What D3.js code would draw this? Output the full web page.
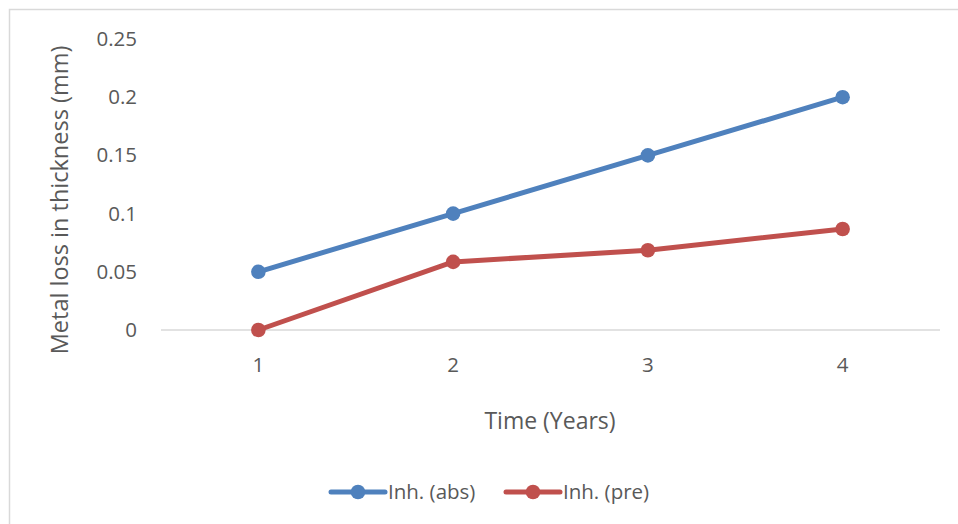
<!DOCTYPE html>
<html><head><meta charset="utf-8">
<script src="https://cdn.jsdelivr.net/npm/d3@7"></script>
<style>body{margin:0;background:#fff}svg{display:block}</style>
</head><body>
<svg id="c" width="958" height="524"></svg>
<script>
const categories = ["1","2","3","4"];
const seriesNames = ["Inh. (abs)","Inh. (pre)"];
const absValues = [0.05,0.10,0.15,0.20];
const preValues = [0.0,0.0585,0.0685,0.0868];
const yTicks = [0,0.05,0.1,0.15,0.2,0.25];
const colors = ["#4f81bd","#c0504d"];

const svg = d3.select("#c");
const font = "'Open Sans', sans-serif";
svg.append("rect").attr("x",9.5).attr("y",9.5).attr("width",960).attr("height",530)
  .attr("fill","#fff").attr("stroke","#d9d9d9").attr("stroke-width",1.5);

const x = d3.scaleBand().domain(categories).range([161,940]);
const y = d3.scaleLinear().domain([0,0.25]).range([330,39]);

const ya = d3.axisLeft(y).tickValues(yTicks).tickSize(0).tickPadding(0).tickFormat(d=>String(d));
const yg = svg.append("g").attr("transform","translate(137,0)").call(ya);
yg.select(".domain").remove();
yg.selectAll("text").attr("font-family",font).attr("font-size",20.5).attr("fill","#595959");

svg.append("line").attr("x1",161).attr("x2",940).attr("y1",y(0)).attr("y2",y(0))
  .attr("stroke","#d9d9d9").attr("stroke-width",1.5);

const xa = d3.axisBottom(x).tickSize(0).tickPadding(0);
const xg = svg.append("g").attr("transform","translate(0,357)").call(xa);
xg.select(".domain").remove();
xg.selectAll("text").attr("font-family",font).attr("font-size",20.5).attr("fill","#595959");

svg.append("text").attr("x",550).attr("y",429).attr("text-anchor","middle")
  .attr("font-family",font).attr("font-size",23).attr("fill","#595959").text("Time (Years)");
svg.append("text").attr("transform","translate(68,200) rotate(-90)").attr("text-anchor","middle")
  .attr("font-family",font).attr("font-size",23.5).attr("fill","#595959").text("Metal loss in thickness (mm)");

const data = [absValues, preValues];
const line = d3.line().x((d,i)=>x(categories[i])+x.bandwidth()/2).y(d=>y(d));
data.forEach((vals,s)=>{
  svg.append("path").datum(vals).attr("d",line).attr("fill","none")
    .attr("stroke",colors[s]).attr("stroke-width",5).attr("stroke-linejoin","round");
  svg.selectAll(null).data(vals).enter().append("circle")
    .attr("cx",(d,i)=>x(categories[i])+x.bandwidth()/2).attr("cy",d=>y(d)).attr("r",7.3)
    .attr("fill",colors[s]);
});

const legX = [331,506];
seriesNames.forEach((n,s)=>{
  const g = svg.append("g").attr("transform",`translate(${legX[s]},492)`);
  g.append("line").attr("x1",0).attr("x2",54).attr("y1",0).attr("y2",0)
    .attr("stroke",colors[s]).attr("stroke-width",5).attr("stroke-linecap","round");
  g.append("circle").attr("cx",27).attr("cy",0).attr("r",7.3).attr("fill",colors[s]);
  g.append("text").attr("x",57).attr("y",7).attr("font-family",font).attr("font-size",20.5)
    .attr("fill","#595959").text(n);
});
</script>
</body></html>
